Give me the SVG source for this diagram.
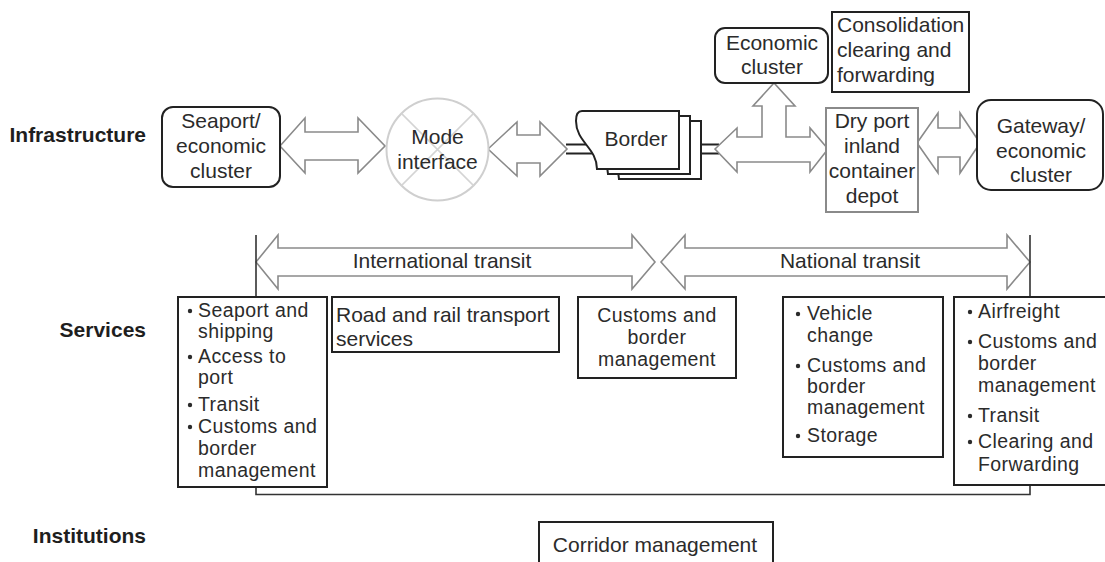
<svg xmlns="http://www.w3.org/2000/svg" width="1105" height="562" viewBox="0 0 1105 562">
<style>
text{font-family:"Liberation Sans",Arial,sans-serif;font-size:21px;fill:#2b2b2b}
.s{font-size:19.5px;letter-spacing:0.4px}
.h{font-weight:bold;text-anchor:end;fill:#1e1e1e}
.c{text-anchor:middle}
.box{fill:#fff;stroke:#222;stroke-width:2}
.gbox{fill:#fff;stroke:#8a8a8a;stroke-width:2}
.arr{fill:#fff;stroke:#8a8a8a;stroke-width:1.6;stroke-linejoin:miter}
.ln{fill:none;stroke:#333;stroke-width:1.6}
.dl{fill:none;stroke:#222;stroke-width:2}
.bul{fill:#2b2b2b}
</style>
<rect width="1105" height="562" fill="#fff"/>

<g id="row-labels">
<text class="h" x="146" y="142">Infrastructure</text>
<text class="h" x="146" y="337">Services</text>
<text class="h" x="146" y="543">Institutions</text>
</g>

<g id="connectors">
<path class="dl" d="M566,144.5 H606 M566,153.5 H606 M696,144.5 H719 M696,153.5 H719"/>
<polygon class="arr" points="280,146 305,118 305,132 358,132 358,118 385,146 358,173 358,160 305,160 305,173"/>
<polygon class="arr" points="488,149 517,122 517,135 540,135 540,122 567,149 540,176 540,163 517,163 517,176"/>
<polygon class="arr" points="715,149 737,128 737,137 762,137 762,106 753,106 774,83 795,106 786,106 786,137 810,137 810,128 828,149 810,172 810,162 737,162 737,172"/>
<polygon class="arr" points="917,143 938,113 938,128 960,128 960,113 980,143 960,173 960,157 938,157 938,173"/>
<polygon class="arr" points="256,262 278,235 278,248 632,248 632,235 655,262 632,289 632,276 278,276 278,289"/>
<polygon class="arr" points="661,262 685,235 685,248 1007,248 1007,235 1030,262 1007,289 1007,276 685,276 685,289"/>
<path class="ln" d="M256,235 V297 M1030,235 V297 M256,487 V494.5 H1030 V485"/>
</g>

<g id="transit-labels">
<text class="c" x="442" y="268">International transit</text>
<text class="c" x="850" y="268">National transit</text>
</g>

<g id="seaport">
<rect class="box" x="162" y="107" width="118" height="80" rx="11"/>
<text class="c" x="221" y="128">Seaport/</text>
<text class="c" x="221" y="153">economic</text>
<text class="c" x="221" y="178">cluster</text>
</g>

<g id="mode-interface">
<circle cx="437.5" cy="149.5" r="51" fill="#fff" stroke="#cfcfcf" stroke-width="2"/>
<path d="M401.4,113.4 L473.6,185.6 M473.6,113.4 L401.4,185.6" stroke="#d4d4d4" stroke-width="1.5"/>
<text class="c" x="437.5" y="144">Mode</text>
<text class="c" x="437.5" y="169">interface</text>
</g>

<g id="border">
<path class="box" transform="translate(22,10)" d="M582,111 H679 V169 H597 C597,148 576,142 576,121 Q576,111 582,111 Z"/>
<path class="box" transform="translate(11,5)" d="M582,111 H679 V169 H597 C597,148 576,142 576,121 Q576,111 582,111 Z"/>
<path class="box" d="M582,111 H679 V169 H597 C597,148 576,142 576,121 Q576,111 582,111 Z"/>
<text class="c" x="636" y="146">Border</text>
</g>

<g id="economic-cluster">
<rect class="box" x="715" y="28" width="113" height="55" rx="10"/>
<text class="c" x="772" y="50">Economic</text>
<text class="c" x="772" y="74">cluster</text>
</g>

<g id="consolidation">
<rect class="box" x="832" y="12" width="137" height="80"/>
<text x="837" y="32">Consolidation</text>
<text x="837" y="57">clearing and</text>
<text x="837" y="82">forwarding</text>
</g>

<g id="dry-port">
<rect class="gbox" x="826" y="108" width="92" height="104"/>
<text class="c" x="872" y="128">Dry port</text>
<text class="c" x="872" y="153">inland</text>
<text class="c" x="872" y="178">container</text>
<text class="c" x="872" y="203">depot</text>
</g>

<g id="gateway">
<rect class="box" x="977" y="100" width="126" height="90" rx="14"/>
<text class="c" x="1041" y="133">Gateway/</text>
<text class="c" x="1041" y="158">economic</text>
<text class="c" x="1041" y="182">cluster</text>
</g>

<g id="services-seaport">
<rect class="box" x="178" y="297" width="149" height="190"/>
<circle class="bul" cx="190" cy="311" r="2.2"/>
<circle class="bul" cx="190" cy="357" r="2.2"/>
<circle class="bul" cx="190" cy="405" r="2.2"/>
<circle class="bul" cx="190" cy="427" r="2.2"/>
<text class="s" x="198" y="317">Seaport and</text>
<text class="s" x="198" y="338">shipping</text>
<text class="s" x="198" y="363">Access to</text>
<text class="s" x="198" y="384">port</text>
<text class="s" x="198" y="411">Transit</text>
<text class="s" x="198" y="433">Customs and</text>
<text class="s" x="198" y="455">border</text>
<text class="s" x="198" y="477">management</text>
</g>

<g id="services-road-rail">
<rect class="box" x="332" y="297" width="227" height="55"/>
<text x="336" y="322">Road and rail transport</text>
<text x="336" y="346">services</text>
</g>

<g id="services-customs">
<rect class="box" x="578" y="297" width="158" height="81"/>
<text class="c s" x="657" y="322">Customs and</text>
<text class="c s" x="657" y="344">border</text>
<text class="c s" x="657" y="366">management</text>
</g>

<g id="services-dryport">
<rect class="box" x="783" y="297" width="160" height="160"/>
<circle class="bul" cx="798" cy="314" r="2.2"/>
<circle class="bul" cx="798" cy="366" r="2.2"/>
<circle class="bul" cx="798" cy="436" r="2.2"/>
<text class="s" x="807" y="320">Vehicle</text>
<text class="s" x="807" y="342">change</text>
<text class="s" x="807" y="372">Customs and</text>
<text class="s" x="807" y="393">border</text>
<text class="s" x="807" y="414">management</text>
<text class="s" x="807" y="442">Storage</text>
</g>

<g id="services-gateway">
<rect class="box" x="954" y="297" width="160" height="188"/>
<circle class="bul" cx="970" cy="312" r="2.2"/>
<circle class="bul" cx="970" cy="342" r="2.2"/>
<circle class="bul" cx="970" cy="416" r="2.2"/>
<circle class="bul" cx="970" cy="442" r="2.2"/>
<text class="s" x="978" y="318">Airfreight</text>
<text class="s" x="978" y="348">Customs and</text>
<text class="s" x="978" y="370">border</text>
<text class="s" x="978" y="392">management</text>
<text class="s" x="978" y="422">Transit</text>
<text class="s" x="978" y="448">Clearing and</text>
<text class="s" x="978" y="471">Forwarding</text>
</g>

<g id="corridor-management">
<rect class="box" x="539" y="522" width="234" height="50"/>
<text class="c" x="655" y="552">Corridor management</text>
</g>
</svg>
